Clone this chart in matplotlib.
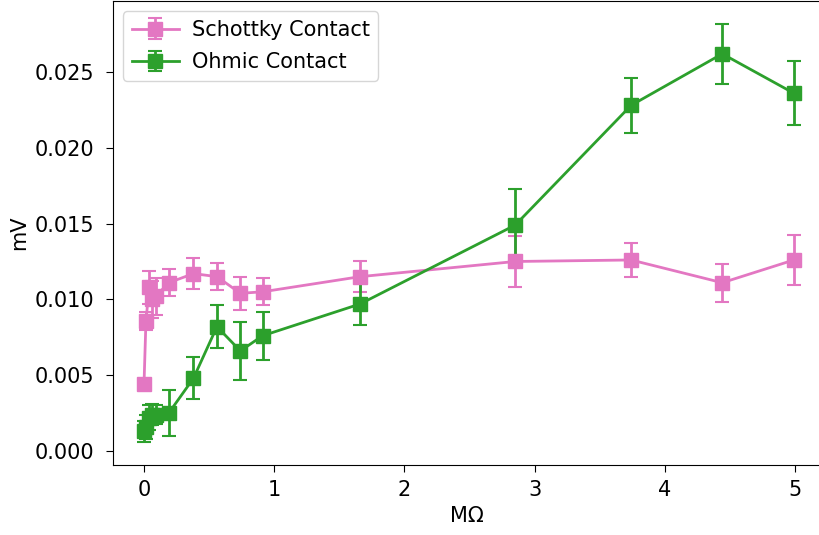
import matplotlib
matplotlib.use('Agg')
import matplotlib.pyplot as plt

# resistance in MOhm
resistance = [0.0, 0.015, 0.04, 0.06, 0.09, 0.19, 0.38, 0.56, 0.74, 0.91, 1.66, 2.85, 3.74, 4.44, 4.99]

schottky = [0.0044, 0.0086, 0.0108, 0.0100, 0.0102, 0.0111, 0.0117, 0.0115, 0.0104, 0.0105,
            0.0115, 0.0125, 0.0126, 0.0111, 0.0126]
schottky_err = [0.0003, 0.0006, 0.0011, 0.0012, 0.0012, 0.0009, 0.0010, 0.0009, 0.0011, 0.0009,
                0.0010, 0.0017, 0.0011, 0.00125, 0.00165]

ohmic = [0.0013, 0.0016, 0.0022, 0.0024, 0.0024, 0.0025, 0.0048, 0.0082, 0.0066, 0.0076,
         0.0097, 0.0149, 0.0228, 0.0262, 0.0236]
ohmic_err = [0.0007, 0.0008, 0.0008, 0.0007, 0.0006, 0.0015, 0.0014, 0.0014, 0.0019, 0.0016,
             0.0014, 0.0024, 0.0018, 0.0020, 0.0021]

fig = plt.figure(figsize=(8.2, 5.35), dpi=100)
ax = fig.add_axes([0.1375, 0.131, 0.864, 0.867])

ax.errorbar(resistance, schottky, yerr=schottky_err, color='#e377c2', marker='s',
            markersize=10, linewidth=2, capsize=5, elinewidth=2, capthick=1.5,
            label='Schottky Contact')
ax.errorbar(resistance, ohmic, yerr=ohmic_err, color='#2ca02c', marker='s',
            markersize=10, linewidth=2, capsize=5, elinewidth=2, capthick=1.5,
            label='Ohmic Contact')

ax.set_xlabel('MΩ', fontsize=15)
ax.set_ylabel('mV', fontsize=15)
ax.tick_params(labelsize=15, length=5)
ax.tick_params(axis='y', pad=8)
ax.tick_params(axis='x', pad=6)
ax.set_xlim(-0.24, 5.2)
ax.set_ylim(-0.00092, 0.02968)
ax.legend(loc='upper left', fontsize=15, labelspacing=0.6, handlelength=2.3,
          handletextpad=0.6)

fig.savefig('out.png', dpi=100)
